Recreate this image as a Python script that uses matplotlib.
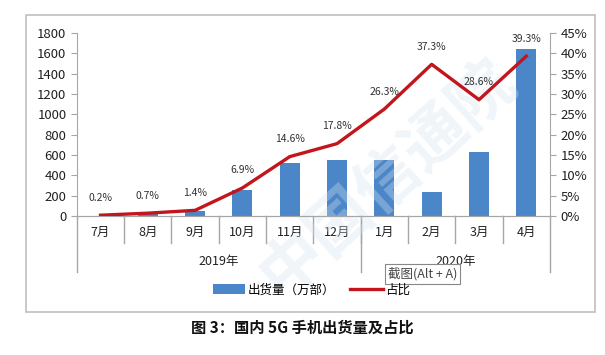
import matplotlib.pyplot as plt
from matplotlib.patches import Rectangle

plt.rcParams['font.family'] = ['Noto Sans CJK SC', 'DejaVu Sans']

months = ['7月', '8月', '9月', '10月', '11月', '12月', '1月', '2月', '3月', '4月']
years = ['2019年', '2020年']
year_counts = [6, 4]
shipments = [4, 20, 49, 256, 521, 548, 551, 238, 630, 1643]
share = [0.2, 0.7, 1.4, 6.9, 14.6, 17.8, 26.3, 37.3, 28.6, 39.3]

bar_color = '#4A86C8'
line_color = '#C3161C'
grey = '#A6A6A6'

fig = plt.figure(figsize=(6.05, 3.55), dpi=100)
ax = fig.add_axes([0.127, 0.3915, 0.782, 0.5155])
ax2 = ax.twinx()

x = list(range(len(months)))
bars = ax.bar(x, shipments, width=0.42, color=bar_color, label='出货量（万部）', zorder=2)
line, = ax2.plot(x, share, color=line_color, lw=2.4, label='占比', zorder=3)
for xi, v in zip(x, share):
    ax2.annotate(f'{v}%', (xi, v), xytext=(0, 9), textcoords='offset points',
                 ha='center', va='bottom', fontsize=7.5, color='#333333')

ax.set_xlim(-0.5, len(months) - 0.5)
ax.set_ylim(0, 1800)
ax.set_yticks(range(0, 1801, 200))
ax2.set_ylim(0, 45)
ax2.set_yticks(range(0, 46, 5))
ax2.set_yticklabels([f'{t}%' for t in range(0, 46, 5)])
ax2.set_zorder(ax.get_zorder() + 1)
ax.patch.set_visible(False)

for a in (ax, ax2):
    a.spines['top'].set_visible(False)
    for s in ('left', 'right', 'bottom'):
        a.spines[s].set_color(grey)
    a.tick_params(axis='y', colors=grey, labelcolor='#222222', labelsize=9.5, length=4)
ax2.spines['left'].set_visible(False)
ax.spines['right'].set_visible(False)

# category axis with two-level labels
ax.set_xticks([])
trans = ax.get_xaxis_transform()
for xi, m in zip(x, months):
    ax.text(xi, -0.09, m, transform=trans, ha='center', va='center', fontsize=9, color='#222222')
for b in range(1, len(months)):
    ax.plot([b - 0.5, b - 0.5], [0, -0.148], transform=trans, color=grey, lw=1, clip_on=False)
start = 0
ax.plot([-0.5, -0.5], [0, -0.306], transform=trans, color=grey, lw=1, clip_on=False)
for yname, n in zip(years, year_counts):
    end = start + n
    ax.plot([end - 0.5, end - 0.5], [0, -0.306], transform=trans, color=grey, lw=1, clip_on=False)
    ax.text((start + end - 1) / 2, -0.25, yname, transform=trans, ha='center', va='center',
            fontsize=9, color='#222222')
    start = end

# watermark
fig.text(0.64, 0.5, '中国信通院', fontsize=46, fontweight='bold', color='#D5E2F1',
         alpha=0.35, rotation=42, ha='center', va='center', zorder=0)

fig.legend([bars, line], ['出货量（万部）', '占比'], loc='center', bbox_to_anchor=(0.515, 1 - 290 / 355),
           ncol=2, frameon=False, fontsize=9, handlelength=2.6, handleheight=0.8, columnspacing=1.2,
           handletextpad=0.2)

# outer chart frame
fig.patches.append(Rectangle((26 / 605, 1 - 312 / 355), 569 / 605, 297 / 355, transform=fig.transFigure,
                             fill=False, edgecolor='#BFBFBF', lw=1.2))

# screenshot tooltip
fig.text(388 / 605, 1 - 274 / 355, '截图(Alt + A)', fontsize=9, color='#444444', ha='left', va='center',
         bbox=dict(boxstyle='square,pad=0.25', fc='white', ec='#888888', lw=0.8))

fig.text(0.5, 1 - 328 / 355, '图 3：国内 5G 手机出货量及占比', ha='center', va='center',
         fontsize=11, fontweight='bold', color='#111111')

fig.savefig('out.png', dpi=100)
